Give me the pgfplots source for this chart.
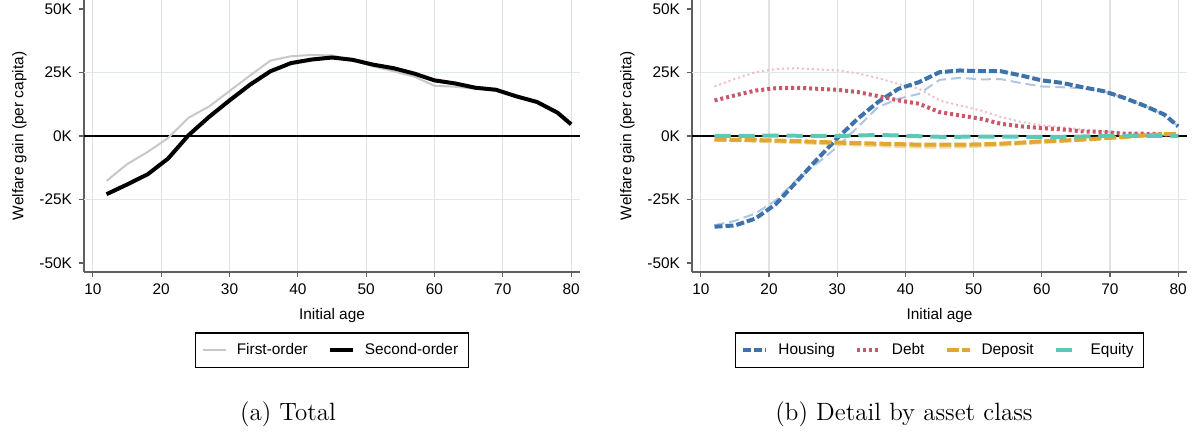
\documentclass[border=0pt]{standalone}
\usepackage{fontspec}
\setsansfont{Liberation Sans}
\usepackage{pgfplots}
\pgfplotsset{compat=1.18}

\definecolor{housing}{RGB}{62,114,170}
\definecolor{housingL}{RGB}{175,198,226}
\definecolor{debt}{RGB}{202,86,106}
\definecolor{debtL}{RGB}{240,188,198}
\definecolor{deposit}{RGB}{224,168,48}
\definecolor{depositL}{RGB}{242,216,160}
\definecolor{equity}{RGB}{94,200,182}
\definecolor{equityL}{RGB}{175,228,218}
\definecolor{axgray}{RGB}{95,95,95}
\definecolor{gridx}{RGB}{225,225,225}
\definecolor{gridy}{RGB}{222,234,234}
\definecolor{firstorder}{RGB}{200,200,200}

\pgfplotsset{
 common/.style={
  scale only axis, width=248pt, height=136pt,
  xmin=8.7, xmax=81.3, ymin=-53.54, ymax=53.54,
  axis x line*=bottom, axis y line*=left,
  axis line style={axgray, line width=0.6pt},
  tick align=outside, major tick length=2.5pt,
  every tick/.style={axgray, line width=0.6pt},
  xtick={10,20,...,80}, xticklabels={10,20,30,40,50,60,70,80},
  ytick={-50,-25,0,25,50}, yticklabels={-50K,-25K,0K,25K,50K},
  font=\sffamily\fontsize{7.7}{9}\selectfont,
  xmajorgrids, major grid style={gridx, line width=0.6pt},
  extra y ticks={-25,25}, extra y tick labels={},
  extra y tick style={major tick length=0pt, ymajorgrids=true, major grid style={gridy, line width=0.6pt}},
  xlabel={Initial age}, ylabel={Welfare gain (per capita)},
  ylabel shift=-3pt,
  legend image code/.code={\draw[##1] (0pt,0pt) -- (11.5pt,0pt);},
  legend style={at={(0.5,-0.287)}, anchor=center, draw=black, line width=0.6pt,
     font=\sffamily\fontsize{7.7}{9}\selectfont, inner xsep=3pt, inner ysep=3pt,
     /tikz/every odd column/.append style={column sep=3pt},
     /tikz/every even column/.append style={column sep=8pt}},
  legend columns=-1,
 }
}

\begin{document}
\begin{tikzpicture}
\path[use as bounding box] (0pt,0pt) rectangle (598pt,-219pt);

\begin{axis}[common, at={(42pt,0pt)}, anchor=north west]
\draw[black, line width=1pt] (axis cs:8.7,0) -- (axis cs:81.3,0);
\addplot[firstorder, line width=1pt] coordinates {
(12,-17.7)(15,-11.1)(18,-6.3)(21,-0.8)(24,7.2)(27,11.6)(30,17.7)(33,23.8)(36,29.7)(39,31.4)(42,31.9)(45,31.7)(48,30.0)(51,27.4)(54,25.5)(57,23.4)(60,19.8)(63,19.4)(66,18.6)(69,18.0)(72,15.6)(75,13.4)(78,9.2)(80,4.6)};
\addlegendentry{First-order}
\addplot[black, line width=2pt] coordinates {
(12,-22.9)(15,-19.1)(18,-15.1)(21,-8.9)(24,0.3)(27,7.5)(30,14.0)(33,20.2)(36,25.5)(39,28.7)(42,30.1)(45,30.9)(48,30.0)(51,28.1)(54,26.7)(57,24.6)(60,21.9)(63,20.7)(66,19.0)(69,18.2)(72,15.6)(75,13.4)(78,9.2)(80,4.6)};
\addlegendentry{Second-order}
\end{axis}

\begin{axis}[common, at={(346pt,0pt)}, anchor=north west, width=247.5pt]
\draw[black, line width=1pt] (axis cs:8.7,0) -- (axis cs:81.3,0);
% first-order (light)
\addplot[housingL, line width=1pt, dash pattern=on 5pt off 2.5pt, forget plot] coordinates {
(12,-35.1)(15,-33.4)(18,-30.5)(21,-25.3)(24,-17.4)(27,-10.9)(30,-4.3)(33,3.5)(36,11.4)(39,14.7)(42,16.6)(45,22.1)(48,22.9)(51,22.3)(54,22.4)(57,20.8)(60,19.5)(63,19.2)(66,18.8)(69,17.7)(72,15.1)(75,12.0)(78,8.4)(80,3.8)};
\addplot[debtL, line width=1pt, dash pattern=on 1pt off 1.5pt, forget plot] coordinates {
(12,19.5)(15,22.5)(18,25.1)(21,26.4)(24,26.7)(27,26.2)(30,25.8)(33,24.7)(36,22.8)(39,20.5)(42,18.6)(45,14.0)(48,12.0)(51,10.1)(54,7.5)(57,5.5)(60,4.2)(63,3.5)(66,2.5)(69,1.8)(72,1.2)(75,0.9)(78,0.5)(80,0.0)};
\addplot[depositL, line width=1.5pt, dash pattern=on 6pt off 1.5pt, forget plot] coordinates {
(12,-1.6)(15,-1.8)(18,-2.0)(21,-2.3)(24,-2.6)(27,-2.9)(30,-3.2)(33,-3.5)(36,-3.8)(39,-4.1)(42,-4.3)(45,-4.4)(48,-4.3)(51,-4.0)(54,-3.6)(57,-3.1)(60,-2.6)(63,-2.1)(66,-1.6)(69,-1.0)(72,-0.4)(75,0.2)(78,0.7)(80,0.9)};
\addplot[equityL, line width=1pt, dash pattern=on 8pt off 4pt, forget plot] coordinates {
(12,0.0)(15,0.1)(18,0.1)(21,0.1)(24,0.1)(27,0.0)(30,-0.1)(33,0.1)(36,0.3)(39,0.1)(42,-0.2)(45,-0.4)(48,-0.4)(51,-0.3)(54,-0.3)(57,-0.3)(60,-0.3)(63,-0.3)(66,-0.2)(69,0.0)(72,0.1)(75,0.1)(78,0.0)(80,0.0)};
% second-order (dark)
\addplot[housing, line width=2pt, dash pattern=on 4pt off 1.5pt] coordinates {
(12,-35.7)(15,-35.2)(18,-32.5)(21,-26.8)(24,-18.1)(27,-9.3)(30,-0.9)(33,6.8)(36,13.4)(39,18.6)(42,21.2)(45,25.1)(48,25.8)(51,25.5)(54,25.5)(57,23.8)(60,21.9)(63,20.9)(66,19.2)(69,17.7)(72,15.1)(75,12.0)(78,8.4)(80,3.8)};
\addlegendentry{Housing}
\addplot[debt, line width=2pt, dash pattern=on 1.5pt off 1.5pt] coordinates {
(12,14.0)(15,16.0)(18,17.9)(21,18.8)(24,19.0)(27,18.6)(30,18.2)(33,17.3)(36,15.7)(39,14.0)(42,12.7)(45,9.4)(48,8.1)(51,6.8)(54,4.8)(57,3.8)(60,3.1)(63,2.6)(66,1.8)(69,1.6)(72,0.9)(75,0.9)(78,0.7)(80,0.0)};
\addlegendentry{Debt}
\addplot[deposit, line width=2pt, dash pattern=on 6pt off 1.5pt] coordinates {
(12,-1.4)(15,-1.5)(18,-1.6)(21,-1.8)(24,-2.0)(27,-2.3)(30,-2.6)(33,-2.8)(36,-3.0)(39,-3.2)(42,-3.4)(45,-3.4)(48,-3.4)(51,-3.3)(54,-3.0)(57,-2.6)(60,-2.1)(63,-1.8)(66,-1.4)(69,-0.9)(72,-0.4)(75,0.2)(78,0.7)(80,0.9)};
\addlegendentry{Deposit}
\addplot[equity, line width=2pt, dash pattern=on 8pt off 4pt] coordinates {
(12,0.1)(15,0.1)(18,0.1)(21,0.2)(24,0.1)(27,0.1)(30,0.0)(33,0.2)(36,0.4)(39,0.2)(42,-0.1)(45,-0.3)(48,-0.3)(51,-0.2)(54,-0.2)(57,-0.3)(60,-0.3)(63,-0.3)(66,-0.2)(69,0.0)(72,0.1)(75,0.1)(78,0.0)(80,0.0)};
\addlegendentry{Equity}
\end{axis}

\node[font=\fontsize{12.5}{14}\selectfont] at (144pt,-207pt) {(a) Total};
\node[font=\fontsize{12.5}{14}\selectfont] at (452pt,-207pt) {(b) Detail by asset class};
\end{tikzpicture}
\end{document}
